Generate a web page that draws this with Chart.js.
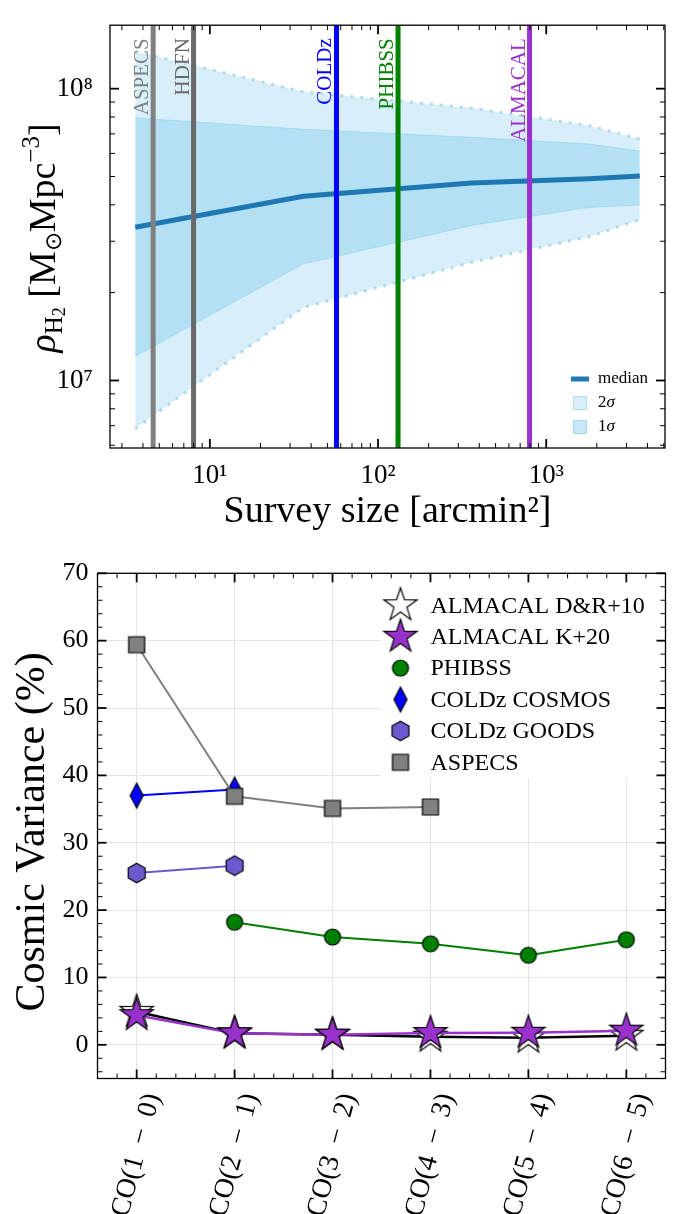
<!DOCTYPE html>
<html>
<head>
<meta charset="utf-8">
<title>Cosmic variance of the H2 density</title>
<script src="https://cdn.jsdelivr.net/npm/chart.js@4.4.1/dist/chart.umd.min.js"></script>
<style>
  body { margin: 0; background: #fff; }
  canvas { position: absolute; left: 0; }
</style>
</head>
<body>
<canvas id="densityChart" width="676" height="540" style="top:0"></canvas>
<canvas id="varianceChart" width="676" height="674" style="top:540px"></canvas>
<script>
// ---- top panel: rho_H2 against survey size ----
var surveySize = [3.6, 36, 360, 1800, 3600];
var rhoMedian  = [3.35e7, 4.28e7, 4.75e7, 4.91e7, 5.02e7];
var rho1sUp    = [7.94e7, 7.26e7, 6.81e7, 6.46e7, 6.11e7];
var rho1sLow   = [1.21e7, 2.51e7, 3.40e7, 3.92e7, 3.99e7];
var rho2sUp    = [1.34e8, 9.75e7, 8.58e7, 7.47e7, 6.72e7];
var rho2sLow   = [6.84e6, 1.78e7, 2.54e7, 3.11e7, 3.56e7];

var surveyNames  = ['ASPECS', 'HDFN', 'COLDz', 'PHIBSS', 'ALMACAL'];
var surveyAreas  = [4.6, 8.0, 56.6, 131.5, 796];
var surveyColors = ['#808080', '#696969', '#0000ff', '#008000', '#9932cc'];

var xTicksTop = [10, 100, 1000];
var yTicksTop = [1e7, 1e8];

// ---- bottom panel: cosmic variance per CO transition ----
var transitions  = ['CO(1−0)', 'CO(2−1)', 'CO(3−2)', 'CO(4−3)', 'CO(5−4)', 'CO(6−5)'];
var almacalDR    = [4.9, 1.7, 1.5, 1.2, 1.05, 1.35];
var almacalK20   = [4.4, 1.7, 1.5, 1.75, 1.8, 2.1];
var phibss       = [null, 18.2, 16.0, 15.0, 13.3, 15.6];
var coldzCosmos  = [37.0, 37.9];
var coldzGoods   = [25.5, 26.6];
var aspecs       = [59.4, 36.9, 35.1, 35.3];
var yTicksBottom = [0, 10, 20, 30, 40, 50, 60, 70];

var SERIF = '"Liberation Serif", "Times New Roman", serif';
var SUP = {1: '¹', 2: '²', 3: '³', 7: '⁷', 8: '⁸'};
var col2s = 'rgba(135,206,235,0.32)';
var col1s = 'rgba(135,206,235,0.45)';

function pts(xs, ys) {
  return ys.map(function (y, i) { return {x: xs[i], y: y}; })
           .filter(function (p) { return p.y !== null; });
}
function idx(ys) {
  return ys.map(function (y, i) { return {x: i, y: y}; })
           .filter(function (p) { return p.y !== null; });
}
function logMinor(lo, hi) {
  var out = [];
  for (var e = Math.floor(Math.log10(lo)); e <= Math.ceil(Math.log10(hi)); e++) {
    for (var m = 2; m <= 9; m++) {
      var v = m * Math.pow(10, e);
      if (v > lo && v < hi) out.push(v);
    }
  }
  return out;
}

// draws a run of text pieces (size, vertical shift, style) along a rotated baseline
function richText(ctx, parts, x, y, angle) {
  ctx.save();
  ctx.translate(x, y);
  ctx.rotate(angle);
  ctx.textAlign = 'left';
  ctx.textBaseline = 'alphabetic';
  var total = 0;
  parts.forEach(function (p) {
    ctx.font = (p.style || '') + ' ' + p.size + 'px ' + SERIF;
    p.w = ctx.measureText(p.t).width;
    total += p.w;
  });
  var cx = -total / 2;
  parts.forEach(function (p) {
    ctx.font = (p.style || '') + ' ' + p.size + 'px ' + SERIF;
    ctx.fillText(p.t, cx, p.dy || 0);
    cx += p.w;
  });
  ctx.restore();
}

// inward ticks on four sides + box
function framePlugin(xMajor, xMinor, yMajor, yMinor) {
  return {
    id: 'frame',
    afterDraw: function (chart) {
      var ctx = chart.ctx, a = chart.chartArea, sx = chart.scales.x, sy = chart.scales.y;
      ctx.save();
      ctx.strokeStyle = '#000';
      function seg(x1, y1, x2, y2, w) {
        ctx.lineWidth = w;
        ctx.beginPath(); ctx.moveTo(x1, y1); ctx.lineTo(x2, y2); ctx.stroke();
      }
      xMajor.forEach(function (v) {
        var p = sx.getPixelForValue(v);
        seg(p, a.bottom, p, a.bottom - 9, 1.8); seg(p, a.top, p, a.top + 9, 1.8);
      });
      xMinor.forEach(function (v) {
        var p = sx.getPixelForValue(v);
        seg(p, a.bottom, p, a.bottom - 5, 1); seg(p, a.top, p, a.top + 5, 1);
      });
      yMajor.forEach(function (v) {
        var p = sy.getPixelForValue(v);
        seg(a.left, p, a.left + 9, p, 1.8); seg(a.right, p, a.right - 9, p, 1.8);
      });
      yMinor.forEach(function (v) {
        var p = sy.getPixelForValue(v);
        seg(a.left, p, a.left + 5, p, 1); seg(a.right, p, a.right - 5, p, 1);
      });
      ctx.lineWidth = 1.3;
      ctx.strokeRect(a.left, a.top, a.right - a.left, a.bottom - a.top);
      ctx.restore();
    }
  };
}

/* ================= top chart ================= */
var xMinTop = 2.548, xMaxTop = 5085, yMinTop = 5.87e6, yMaxTop = 1.65e8;

var topDatasets = [
  {data: pts(surveySize, rho2sUp), borderColor: 'rgba(173,216,236,0.9)', borderWidth: 3,
   borderDash: [3, 7], fill: '+1', backgroundColor: col2s, order: 3},
  {data: pts(surveySize, rho2sLow), borderColor: 'rgba(173,216,236,0.9)', borderWidth: 3,
   borderDash: [3, 7], fill: false, order: 3},
  {data: pts(surveySize, rho1sUp), borderColor: 'rgba(135,206,235,0.55)', borderWidth: 1,
   fill: '+1', backgroundColor: col1s, order: 2},
  {data: pts(surveySize, rho1sLow), borderColor: 'rgba(135,206,235,0.55)', borderWidth: 1,
   fill: false, order: 2},
  {data: pts(surveySize, rhoMedian), borderColor: '#1f77b4', borderWidth: 5, fill: false, order: 1}
];
surveyAreas.forEach(function (area, i) {
  topDatasets.push({
    data: [{x: area, y: yMinTop}, {x: area, y: yMaxTop}],
    borderColor: surveyColors[i], borderWidth: 5, fill: false, order: 0
  });
});

var topDecor = {
  id: 'topDecor',
  afterDatasetsDraw: function (chart) {
    var ctx = chart.ctx, sx = chart.scales.x, a = chart.chartArea;
    ctx.save();
    ctx.font = '21px ' + SERIF;
    ctx.textAlign = 'right';
    ctx.textBaseline = 'alphabetic';
    surveyNames.forEach(function (name, i) {
      var px = sx.getPixelForValue(surveyAreas[i]);
      ctx.save();
      ctx.translate(px - 5, a.top + 13);
      ctx.rotate(-Math.PI / 2);
      ctx.fillStyle = surveyColors[i];
      ctx.fillText(name, 0, 0);
      ctx.restore();
    });

    // legend, lower right
    var lx = a.right - 94, ly = a.bottom - 69;
    ctx.strokeStyle = '#1f77b4'; ctx.lineWidth = 5;
    ctx.beginPath(); ctx.moveTo(lx, ly); ctx.lineTo(lx + 18, ly); ctx.stroke();
    ctx.lineWidth = 1;
    ctx.fillStyle = '#fff'; ctx.fillRect(lx + 2, ly + 17, 14, 14); ctx.fillRect(lx + 2, ly + 41, 14, 14);
    ctx.fillStyle = col2s; ctx.fillRect(lx + 2, ly + 17, 14, 14);
    ctx.strokeStyle = 'rgba(173,216,236,0.9)'; ctx.strokeRect(lx + 2.5, ly + 17.5, 13, 13);
    ctx.fillStyle = col1s; ctx.fillRect(lx + 2, ly + 41, 14, 14);
    ctx.strokeStyle = 'rgba(135,206,235,0.55)'; ctx.strokeRect(lx + 2.5, ly + 41.5, 13, 13);
    ctx.fillStyle = '#000';
    ctx.textAlign = 'left'; ctx.textBaseline = 'middle';
    ctx.font = '17px ' + SERIF;
    ctx.fillText('median', lx + 27, ly);
    [['2', ly + 24], ['1', ly + 48]].forEach(function (r) {
      ctx.font = '17px ' + SERIF;
      ctx.fillText(r[0], lx + 27, r[1]);
      var w = ctx.measureText(r[0]).width;
      ctx.font = 'italic 17px ' + SERIF;
      ctx.fillText('σ', lx + 27 + w, r[1]);
    });
    ctx.restore();
  },
  afterDraw: function (chart) {
    var ctx = chart.ctx, a = chart.chartArea;
    ctx.save();
    ctx.fillStyle = '#000';
    ctx.font = '38px ' + SERIF;
    ctx.textAlign = 'center';
    ctx.textBaseline = 'alphabetic';
    ctx.fillText('Survey size [arcmin²]', (a.left + a.right) / 2, 522);
    richText(ctx, [
      {t: 'ρ', size: 38, style: 'italic'},
      {t: 'H', size: 25, dy: 7},
      {t: '2', size: 18, dy: 10},
      {t: ' [M', size: 38},
      {t: '⊙', size: 23, dy: 6},
      {t: 'Mpc', size: 38},
      {t: '−3', size: 25, dy: -16},
      {t: ']', size: 38}
    ], 55, 238, -Math.PI / 2);
    ctx.restore();
  }
};

new Chart(document.getElementById('densityChart'), {
  type: 'line',
  data: {datasets: topDatasets},
  options: {
    responsive: false,
    animation: false,
    events: [],
    elements: {point: {radius: 0}, line: {tension: 0}},
    layout: {padding: {top: 15, right: 11, left: 0, bottom: 0}},
    plugins: {legend: {display: false}, tooltip: {enabled: false}},
    scales: {
      x: {
        type: 'logarithmic', min: xMinTop, max: xMaxTop,
        afterBuildTicks: function (s) { s.ticks = xTicksTop.map(function (v) { return {value: v}; }); },
        afterFit: function (s) { s.height = 92; },
        grid: {display: false}, border: {display: false},
        ticks: {
          color: '#000', padding: 4, maxRotation: 0, font: {family: SERIF, size: 27},
          callback: function (v) { return '10' + SUP[Math.round(Math.log10(v))]; }
        }
      },
      y: {
        type: 'logarithmic', min: yMinTop, max: yMaxTop,
        afterBuildTicks: function (s) { s.ticks = yTicksTop.map(function (v) { return {value: v}; }); },
        afterFit: function (s) { s.width = 110; },
        grid: {display: false}, border: {display: false},
        ticks: {
          color: '#000', padding: 9, font: {family: SERIF, size: 27},
          callback: function (v) { return '10' + SUP[Math.round(Math.log10(v))]; }
        }
      }
    }
  },
  plugins: [topDecor, framePlugin(xTicksTop, logMinor(xMinTop, xMaxTop), yTicksTop, logMinor(yMinTop, yMaxTop))]
});

/* ================= bottom chart ================= */
function makeMarker(size, fill, path) {
  var c = document.createElement('canvas');
  c.width = size; c.height = size;
  var g = c.getContext('2d');
  g.translate(size / 2, size / 2);
  g.beginPath(); path(g); g.closePath();
  g.fillStyle = fill; g.fill();
  g.lineWidth = 1.2; g.strokeStyle = '#000'; g.stroke();
  return c;
}
function starPath(g) {
  for (var k = 0; k < 10; k++) {
    var rad = k % 2 ? 6.8 : 17.5, ang = -Math.PI / 2 + k * Math.PI / 5;
    g.lineTo(rad * Math.cos(ang), rad * Math.sin(ang));
  }
}
var mStarWhite  = makeMarker(40, '#ffffff', starPath);
var mStarPurple = makeMarker(40, '#9932cc', starPath);
var mCircle  = makeMarker(22, '#008000', function (g) { g.arc(0, 0, 8, 0, 2 * Math.PI); });
var mDiamond = makeMarker(30, '#0000ff', function (g) {
  g.moveTo(0, -12.5); g.lineTo(6.5, 0); g.lineTo(0, 12.5); g.lineTo(-6.5, 0);
});
var mHex = makeMarker(24, '#6a5acd', function (g) {
  for (var k = 0; k < 6; k++) {
    var ang = -Math.PI / 2 + k * Math.PI / 3;
    g.lineTo(9.8 * Math.cos(ang), 9.8 * Math.sin(ang));
  }
});
var mSquare = makeMarker(22, '#808080', function (g) { g.rect(-8, -8, 16, 16); });

var series = [
  {label: 'ALMACAL D&R+10', data: idx(almacalDR),   color: '#000000', marker: mStarWhite,  w: 2.5, order: 6},
  {label: 'ALMACAL K+20',   data: idx(almacalK20),  color: '#9932cc', marker: mStarPurple, w: 2.5, order: 5},
  {label: 'PHIBSS',         data: idx(phibss),      color: '#008000', marker: mCircle,     w: 2,   order: 4},
  {label: 'COLDz COSMOS',   data: idx(coldzCosmos), color: '#0000ff', marker: mDiamond,    w: 2,   order: 3},
  {label: 'COLDz GOODS',    data: idx(coldzGoods),  color: '#6a5acd', marker: mHex,        w: 2,   order: 2},
  {label: 'ASPECS',         data: idx(aspecs),      color: '#808080', marker: mSquare,     w: 2,   order: 1}
];

var bottomDecor = {
  id: 'bottomDecor',
  afterDatasetsDraw: function (chart) {
    var ctx = chart.ctx, a = chart.chartArea;
    ctx.save();
    // legend box, upper right
    ctx.fillStyle = '#fff';
    ctx.fillRect(a.left + 283, a.top + 1, a.right - a.left - 284, 204);
    ctx.font = '24px ' + SERIF;
    ctx.fillStyle = '#000';
    ctx.textAlign = 'left';
    ctx.textBaseline = 'middle';
    series.forEach(function (s, i) {
      var y = a.top + 32 + i * 31.4;
      ctx.drawImage(s.marker, a.left + 303 - s.marker.width / 2, y - s.marker.height / 2);
      ctx.fillText(s.label, a.left + 333, y + 1);
    });
    ctx.restore();
  },
  afterDraw: function (chart) {
    var ctx = chart.ctx, a = chart.chartArea, sx = chart.scales.x;
    ctx.save();
    ctx.fillStyle = '#000';
    // rotated category labels
    var fs = 28, ang = 75 * Math.PI / 180, gap = 0.45 * fs;
    ctx.font = fs + 'px ' + SERIF;
    ctx.textBaseline = 'middle';
    ctx.textAlign = 'left';
    transitions.forEach(function (lab, i) {
      var halves = lab.split('−');
      var segs = [halves[0], '−', halves[1]];
      var w = segs.map(function (s) { return ctx.measureText(s).width; });
      var L = w[0] + w[1] + w[2] + 2 * gap;
      var H = L * Math.sin(ang) + fs * Math.cos(ang);
      ctx.save();
      ctx.translate(sx.getPixelForValue(i), a.bottom + 12 + H / 2);
      ctx.rotate(-ang);
      var x = -L / 2;
      ctx.fillText(segs[0], x, 0); x += w[0] + gap;
      ctx.fillText(segs[1], x, 0); x += w[1] + gap;
      ctx.fillText(segs[2], x, 0);
      ctx.restore();
    });
    // y title
    ctx.font = '42px ' + SERIF;
    ctx.textAlign = 'center';
    ctx.textBaseline = 'alphabetic';
    ctx.translate(44, (a.top + a.bottom) / 2 + 6);
    ctx.rotate(-Math.PI / 2);
    ctx.fillText('Cosmic Variance (%)', 0, 0);
    ctx.restore();
  }
};

var xMinorBottom = [], yMinorBottom = [];
for (var t = -0.2; t < 5.4; t += 0.2) {
  if (Math.abs(t - Math.round(t)) > 0.01) xMinorBottom.push(t);
}
for (var u = -4; u < 70; u += 2) {
  if (u % 10 !== 0) yMinorBottom.push(u);
}

new Chart(document.getElementById('varianceChart'), {
  type: 'scatter',
  data: {
    datasets: series.map(function (s) {
      return {
        label: s.label, data: s.data, showLine: true, order: s.order,
        borderColor: s.color, borderWidth: s.w,
        pointStyle: s.marker, pointRadius: 8
      };
    })
  },
  options: {
    responsive: false,
    animation: false,
    events: [],
    layout: {padding: {top: 33.3, right: 10.5, left: 0, bottom: 0}},
    plugins: {legend: {display: false}, tooltip: {enabled: false}},
    scales: {
      x: {
        type: 'linear', min: -0.4, max: 5.4,
        afterBuildTicks: function (s) { s.ticks = transitions.map(function (c, i) { return {value: i}; }); },
        afterFit: function (s) { s.height = 135.5; },
        grid: {color: '#e4e4e4', lineWidth: 1, drawTicks: false},
        border: {display: false},
        ticks: {display: false}
      },
      y: {
        type: 'linear', min: -5, max: 70,
        afterBuildTicks: function (s) { s.ticks = yTicksBottom.map(function (v) { return {value: v}; }); },
        afterFit: function (s) { s.width = 97.5; },
        grid: {color: '#e4e4e4', lineWidth: 1, drawTicks: false},
        border: {display: false},
        ticks: {color: '#000', padding: 9, font: {family: SERIF, size: 26}}
      }
    }
  },
  plugins: [bottomDecor, framePlugin([0, 1, 2, 3, 4, 5], xMinorBottom, yTicksBottom, yMinorBottom)]
});
</script>
</body>
</html>
